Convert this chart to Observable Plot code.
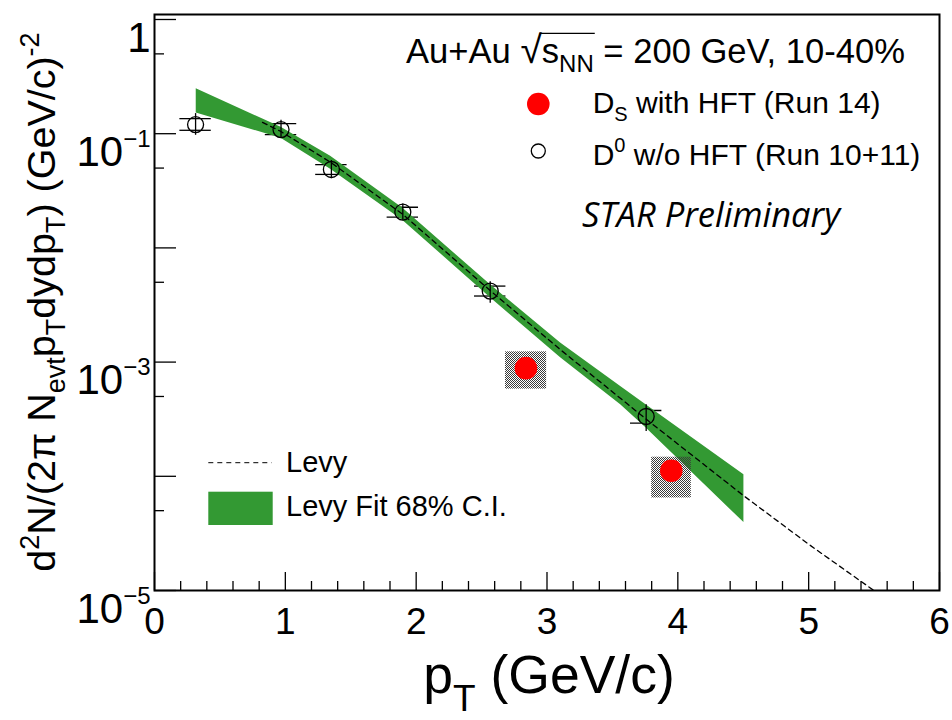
<!DOCTYPE html>
<html><head><meta charset="utf-8">
<script src="https://cdn.jsdelivr.net/npm/d3@7"></script>
<script src="https://cdn.jsdelivr.net/npm/@observablehq/plot@0.6"></script>
<style>
body{margin:0;background:#fff}
svg{font-family:"Liberation Sans",Arial,Helvetica,sans-serif}
</style>
</head><body><div id="chart"></div>
<script>
// ---- D0 w/o HFT (Run 10+11): open circles ----
const d0_pt      = [0.314, 0.967, 1.352, 1.898, 2.566, 3.758];
const d0_val     = [0.1201, 0.1086, 0.0486, 0.0206, 0.00419, 3.34e-4];
const d0_statHi  = [0.150, 0.131, 0.0582, 0.0242, 0.00506, 4.23e-4];
const d0_statLo  = [0.0968, 0.0906, 0.0404, 0.0175, 0.00327, 2.47e-4];
const d0_sysHi   = [0.1355, 0.1225, 0.0536, 0.0227, 0.00463, 3.77e-4];
const d0_sysLo   = [0.1071, 0.0982, 0.0440, 0.0186, 0.00379, 2.92e-4];
const d0_ptErr   = [0.12, 0.12, 0.12, 0.12, 0.12, 0.12];

// ---- Ds with HFT (Run 14): red dots with systematic boxes ----
const ds_pt    = [2.839, 3.950];
const ds_val   = [8.85e-4, 1.12e-4];
const ds_ptLo  = [2.683, 3.800];
const ds_ptHi  = [2.997, 4.103];
const ds_sysHi = [1.23e-3, 1.47e-4];
const ds_sysLo = [5.8e-4, 6.46e-5];

// ---- Levy fit (dashed) ----
const levy_pt  = [0.826, 0.963, 1.346, 1.896, 2.561, 3.104, 3.754, 4.503, 5.015, 5.52];
const levy_val = [0.1258, 0.1050, 0.0562, 0.01974, 0.00428, 0.00128, 3.19e-4, 6.76e-5, 2.47e-5, 9.6e-6];

// ---- Levy fit 68% C.I. band ----
const band_pt = [0.319, 0.967, 1.346, 1.896, 2.561, 3.104, 3.563, 3.754, 4.505];
const band_hi = [0.248, 0.1137, 0.0634, 0.0223, 0.00483, 0.00147, 6.11e-4, 4.26e-4, 1.03e-4];
const band_lo = [0.152, 0.0912, 0.0489, 0.0175, 0.00372, 0.00109, 4.23e-4, 2.68e-4, 3.93e-5];

// ---- axis ticks ----
const xMajor = [0, 1, 2, 3, 4, 5, 6];
const xMinor = d3.range(0, 6.001, 0.2).filter(v => Math.abs(v - Math.round(v)) > 1e-6);
const yMajor = [1e-5, 1e-4, 1e-3, 1e-2, 1e-1, 1];
const yMinor = [5e-5, 5e-4, 5e-3, 5e-2, 5e-1];
const yLabeled = [1e-5, 1e-3, 1e-1, 1];

const GREEN = "#339933";

const d0 = d0_pt.map((x, i) => ({x, y: d0_val[i], stHi: d0_statHi[i], stLo: d0_statLo[i],
  syHi: d0_sysHi[i], syLo: d0_sysLo[i], x1: x - d0_ptErr[i], x2: x + d0_ptErr[i]}));
const ds = ds_pt.map((x, i) => ({x, y: ds_val[i], x1: ds_ptLo[i], x2: ds_ptHi[i], y1: ds_sysLo[i], y2: ds_sysHi[i]}));
const levy = levy_pt.map((x, i) => ({x, y: levy_val[i]}));
const band = band_pt.map((x, i) => ({x, hi: band_hi[i], lo: band_lo[i]}));

const supFmt = d => d === 1 ? "1" : "10^" + "\u2212" + Math.abs(Math.round(Math.log10(d)));

const chart = Plot.plot({
  width: 952, height: 720,
  marginLeft: 154, marginRight: 13, marginTop: 14, marginBottom: 130,
  x: {domain: [0, 6]},
  y: {type: "log", domain: [1e-5, 1.106]},
  style: {fontFamily: "Liberation Sans, Arial, sans-serif", color: "black", background: "white", overflow: "visible"},
  marks: [
    Plot.ruleY(d0, {y: "syHi", x1: "x1", x2: "x2", stroke: "black", strokeWidth: 1.3}),
    Plot.ruleY(d0, {y: "syLo", x1: "x1", x2: "x2", stroke: "black", strokeWidth: 1.3}),
    Plot.areaY(band, {x: "x", y1: "lo", y2: "hi", fill: GREEN, fillOpacity: 1}),
    Plot.rect(ds, {x1: "x1", x2: "x2", y1: "y1", y2: "y2", fill: "url(#checker)"}),
    Plot.line(levy, {x: "x", y: "y", stroke: "black", strokeWidth: 1.3, strokeDasharray: "5,4", clip: true}),
    Plot.ruleX(d0, {x: "x", y1: "stLo", y2: "stHi", stroke: "black", strokeWidth: 1.3}),
    Plot.dot(d0, {x: "x", y: "y", r: 8, stroke: "black", strokeWidth: 1.3, fill: "none"}),
    Plot.dot(ds, {x: "x", y: "y", r: 11.3, fill: "#ff0000", stroke: null}),
    // inward ticks
    Plot.axisX(xMajor, {anchor: "bottom", tickSize: -18, tickFormat: () => "", label: null, strokeWidth: 1.3}),
    Plot.axisX(xMinor, {anchor: "bottom", tickSize: -9, tickFormat: () => "", label: null, strokeWidth: 1.3}),
    Plot.axisY(yMajor, {anchor: "left", tickSize: -22, tickFormat: () => "", label: null, strokeWidth: 1.3}),
    Plot.axisY(yMinor, {anchor: "left", tickSize: -10, tickFormat: () => "", label: null, strokeWidth: 1.3}),
    // tick labels
    Plot.axisX(xMajor, {anchor: "bottom", tickSize: 0, tickPadding: 17, fontSize: 37, tickFormat: d => String(d), label: null}),
    Plot.axisY(yLabeled, {anchor: "left", tickSize: 0, tickPadding: 4, fontSize: 42, tickFormat: supFmt, label: null}),
    Plot.frame({stroke: "black", strokeWidth: 2})
  ]
});
document.getElementById("chart").appendChild(chart);

const svg = d3.select(chart);

// checker pattern for systematic boxes
const pat = svg.insert("defs", ":first-child").append("pattern")
  .attr("id", "checker").attr("patternUnits", "userSpaceOnUse").attr("width", 2).attr("height", 2);
pat.append("rect").attr("x", 0).attr("y", 0).attr("width", 1).attr("height", 1).attr("fill", "#3a3a3a");
pat.append("rect").attr("x", 1).attr("y", 1).attr("width", 1).attr("height", 1).attr("fill", "#3a3a3a");

// y tick labels with superscripts
svg.selectAll('g[aria-label="y-axis tick label"] text').each(function () {
  const s = this.textContent;
  const el = d3.select(this);
  el.attr("dy", "0.45em");
  if (s.includes("^")) {
    const [base, exp] = s.split("^");
    el.text(null);
    el.append("tspan").text(base);
    el.append("tspan").attr("dy", -19).attr("font-size", 24).text(exp);
  }
});

// rich text helper
function rich(parent, x, y, segs, o = {}) {
  const t = parent.append("text").attr("x", x).attr("y", y)
    .attr("font-size", o.size).attr("text-anchor", o.anchor || "start").attr("fill", "black");
  if (o.family) t.attr("font-family", o.family);
  if (o.style) t.attr("font-style", o.style);
  if (o.transform) t.attr("transform", o.transform);
  let cur = 0;
  const spans = [];
  for (const s of segs) {
    const shift = s.shift || 0;
    const ts = t.append("tspan").attr("dy", shift - cur).text(s.t);
    if (s.size) ts.attr("font-size", s.size);
    cur = shift;
    spans.push(ts);
  }
  return {t, spans};
}

const ann = svg.append("g").attr("class", "annotations");

// axis titles
rich(ann, 549, 693, [{t: "p"}, {t: "T", size: 37, shift: 18}, {t: " (GeV/c)"}], {size: 53.5, anchor: "middle"});
rich(ann, 0, 0, [
  {t: "d"}, {t: "2", size: 27, shift: -16}, {t: "N/(2\u03C0 N"}, {t: "evt", size: 27, shift: 10},
  {t: "p"}, {t: "T", size: 27, shift: 10}, {t: "dydp"}, {t: "T", size: 27, shift: 10},
  {t: ") (GeV/c)"}, {t: "-2", size: 27, shift: -16}
], {size: 39.5, anchor: "middle", transform: "translate(55,302) rotate(-90)"});

// header
const hdr = rich(ann, 406, 62.7, [
  {t: "Au+Au "}, {t: "\u221A", size: 39}, {t: "s"}, {t: "NN", size: 24, shift: 9}, {t: " = 200 GeV, 10-40%"}
], {size: 34.6});
{
  const sNode = hdr.spans[2].node(), nnNode = hdr.spans[3].node();
  const x1 = sNode.getStartPositionOfChar(0).x - 2;
  const x2 = nnNode.getEndPositionOfChar(1).x + 1;
  ann.append("line").attr("x1", x1).attr("x2", x2).attr("y1", 33.3).attr("y2", 33.3)
    .attr("stroke", "black").attr("stroke-width", 1.3);
}

// legend (top right)
ann.append("circle").attr("cx", 538.3).attr("cy", 104).attr("r", 11.3).attr("fill", "#ff0000");
rich(ann, 592.7, 113.3, [{t: "D"}, {t: "S", size: 20, shift: 8}, {t: " with HFT (Run 14)"}], {size: 30});
ann.append("circle").attr("cx", 538.3).attr("cy", 151).attr("r", 7).attr("fill", "none").attr("stroke", "black").attr("stroke-width", 1.3);
rich(ann, 592.7, 165, [{t: "D"}, {t: "0", size: 20, shift: -13}, {t: " w/o HFT (Run 10+11)"}], {size: 30});

rich(ann, 582, 227, [{t: "STAR Preliminary"}], {size: 34.5, family: "Open Sans, sans-serif", style: "italic"});

// legend (bottom left)
ann.append("line").attr("x1", 208.3).attr("x2", 271.7).attr("y1", 462.7).attr("y2", 462.7)
  .attr("stroke", "black").attr("stroke-width", 1).attr("stroke-dasharray", "5,4");
rich(ann, 286, 471.7, [{t: "Levy"}], {size: 29});
ann.append("rect").attr("x", 208.3).attr("y", 491.7).attr("width", 64.4).attr("height", 33.3).attr("fill", GREEN);
rich(ann, 286, 516, [{t: "Levy Fit 68% C.I."}], {size: 29});
</script>
</body></html>
